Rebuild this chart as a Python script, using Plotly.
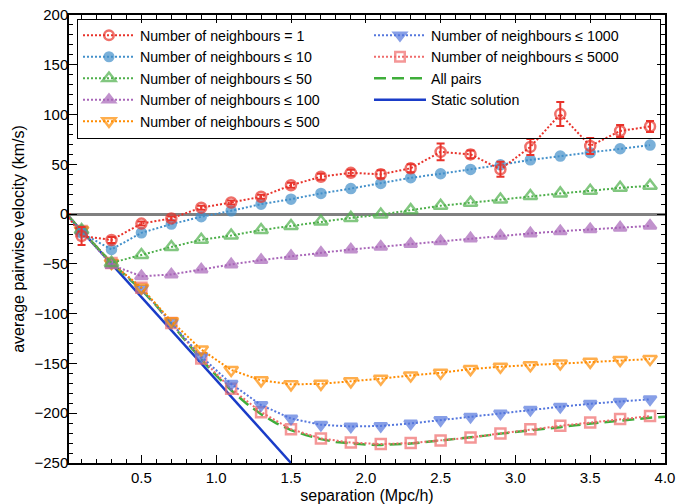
import plotly.graph_objects as go

# Separation bins (Mpc/h); every series also starts from the origin
sep = [0.0, 0.1, 0.3, 0.5, 0.7, 0.9, 1.1, 1.3, 1.5, 1.7, 1.9,
       2.1, 2.3, 2.5, 2.7, 2.9, 3.1, 3.3, 3.5, 3.7, 3.9]

v_n1 = [0, -22, -26, -9.5, -4.3, 6.5, 11.7, 17.4, 29, 37.5, 41.5,
        40, 46, 62.5, 60, 45, 67.5, 100.5, 68.5, 83.5, 88]
err_n1 = [0, 9, 3, 2, 2, 2, 2, 2, 2.5, 3, 3,
          4, 4, 8.5, 4, 7.5, 8, 12, 8, 6, 5.5]
v_n10 = [0, -19, -35.5, -18.8, -10, -2.7, 3.3, 10, 15, 20.8, 25.6,
         30.8, 36.5, 40.5, 44.9, 49.5, 54.5, 58.3, 61.6, 65.6, 69.3]
v_n50 = [0, -16, -49, -41, -33, -25.8, -21.5, -16, -12, -7.5, -3.8,
         -0.5, 4, 8.4, 11.4, 14.7, 18.1, 20.8, 23.4, 26.4, 28.4]
v_n100 = [0, -17, -51, -62.5, -60.6, -55.7, -50.5, -46.2, -42.2, -38.9, -35.5,
          -32.8, -30, -27.3, -24.4, -21.8, -19.4, -17.2, -15.2, -13.6, -11.8]
v_n500 = [0, -16, -49, -74, -107.5, -136, -156.5, -167, -171, -170.5, -168,
          -165.3, -162, -159.4, -155.7, -153.3, -151.7, -150, -148.4, -146.6, -145.6]
v_n1000 = [0, -16, -49, -75, -109, -143, -170.5, -191.8, -205.3, -211.6, -213.3,
           -212.8, -210.3, -206.9, -203.6, -200.2, -196.5, -193.5, -190.5, -188.6, -186]
v_n5000 = [0, -17, -49, -74, -109.5, -145, -175.5, -198.9, -216, -225.3, -229.5,
           -231, -230, -227.3, -224.5, -220.3, -216.1, -212.6, -209.4, -205.8, -202.9]

# All pairs: finely sampled curve
sep_all = [0.0, 0.1, 0.2, 0.3, 0.4, 0.5, 0.6, 0.7, 0.8, 0.9, 1.0,
           1.1, 1.2, 1.3, 1.4, 1.5, 1.6, 1.7, 1.8, 1.9, 2.0,
           2.1, 2.2, 2.3, 2.4, 2.5, 2.6, 2.7, 2.8, 2.9, 3.0,
           3.1, 3.2, 3.3, 3.4, 3.5, 3.6, 3.7, 3.8, 3.9, 4.0]
v_all = [0, -17, -33, -49, -63, -76, -92, -110, -128, -146, -162,
         -177, -190, -201, -210, -217, -222, -226, -229, -230.5, -231.5,
         -231.8, -231.5, -230.5, -229, -227.5, -226, -224.5, -222.5, -220.5, -219,
         -217, -215.5, -214, -212, -210.5, -208.5, -207, -205.5, -204.5, -203.5]

# Static solution
sep_static = [0.0, 1.5]
v_static = [0, -250]

DOT = "2px,2px"

def marker_sizes(size):
    # no marker at the origin point
    return [0] + [size] * (len(sep) - 1)

fig = go.Figure()

fig.add_trace(go.Scatter(
    x=sep_static, y=v_static, mode="lines", name="Static solution",
    line=dict(color="#1A3CC8", width=2.5), legendrank=8))

fig.add_trace(go.Scatter(
    x=sep_all, y=v_all, mode="lines", name="All pairs",
    line=dict(color="#3FAE3A", width=2.5, dash="12px,6px"), legendrank=6))

series = [
    ("Number of neighbours \u2264 5000", v_n5000, "#EF6B6B", "square-open", 10, 4),
    ("Number of neighbours \u2264 1000", v_n1000, "#5577DD", "triangle-down", 11, 2),
    ("Number of neighbours \u2264 500", v_n500, "#FF8C00", "triangle-down-open", 12, 9),
    ("Number of neighbours \u2264 100", v_n100, "#A865B8", "triangle-up", 11, 7),
    ("Number of neighbours \u2264 50", v_n50, "#4DAF4A", "triangle-up-open", 12, 5),
    ("Number of neighbours \u2264 10", v_n10, "#4390CA", "circle", 9, 3),
]
for name, vals, col, sym, size, rank in series:
    fig.add_trace(go.Scatter(
        x=sep, y=vals, mode="lines+markers", name=name,
        line=dict(color=col, width=2, dash=DOT),
        marker=dict(symbol=sym, size=marker_sizes(size), color=col,
                    line=dict(color=col, width=2.5)),
        legendrank=rank))

fig.add_trace(go.Scatter(
    x=sep, y=v_n1, mode="lines+markers", name="Number of neighbours = 1",
    line=dict(color="#E8332B", width=2, dash=DOT),
    marker=dict(symbol="circle-open", size=marker_sizes(10), color="#E8332B",
                line=dict(color="#E8332B", width=2.5)),
    error_y=dict(type="data", array=err_n1, color="#E8332B", thickness=2, width=4),
    legendrank=1))

axis_common = dict(
    showline=True, linecolor="black", linewidth=1.5, mirror="allticks",
    ticks="inside", ticklen=8, tickwidth=1, tickcolor="black",
    showgrid=False, tickfont=dict(size=15, color="black"), automargin=False,
)

fig.update_xaxes(
    range=[0.016, 4.0], dtick=0.5, tick0=0, tickformat=".1f", zeroline=False,
    minor=dict(ticks="inside", ticklen=4, dtick=0.1, tick0=0, tickcolor="black", showgrid=False),
    title=dict(text="separation (Mpc/h)", font=dict(size=16, color="black"), standoff=8),
    **axis_common)
fig.update_yaxes(
    range=[-250, 200], dtick=50, tick0=0, ticklabelstandoff=-4,
    zeroline=True, zerolinecolor="#808080", zerolinewidth=2.5,
    minor=dict(ticks="inside", ticklen=4, dtick=10, tick0=0, tickcolor="black", showgrid=False),
    title=dict(text="average pairwise velocity (km/s)", font=dict(size=16, color="black"),
               standoff=6),
    **axis_common)

fig.update_layout(
    width=690, height=504,
    margin=dict(l=69, r=25, t=15, b=41),
    plot_bgcolor="white", paper_bgcolor="white",
    font=dict(family="Liberation Sans, Arial, sans-serif", color="black"),
    legend=dict(
        orientation="h", x=0.0134, y=0.992, xanchor="left", yanchor="top",
        entrywidth=224, entrywidthmode="pixels", traceorder="normal",
        bgcolor="rgba(0,0,0,0)", bordercolor="black", borderwidth=1,
        font=dict(size=14.2, color="black"), itemwidth=52,
    ),
)

fig.write_html("out.html")
